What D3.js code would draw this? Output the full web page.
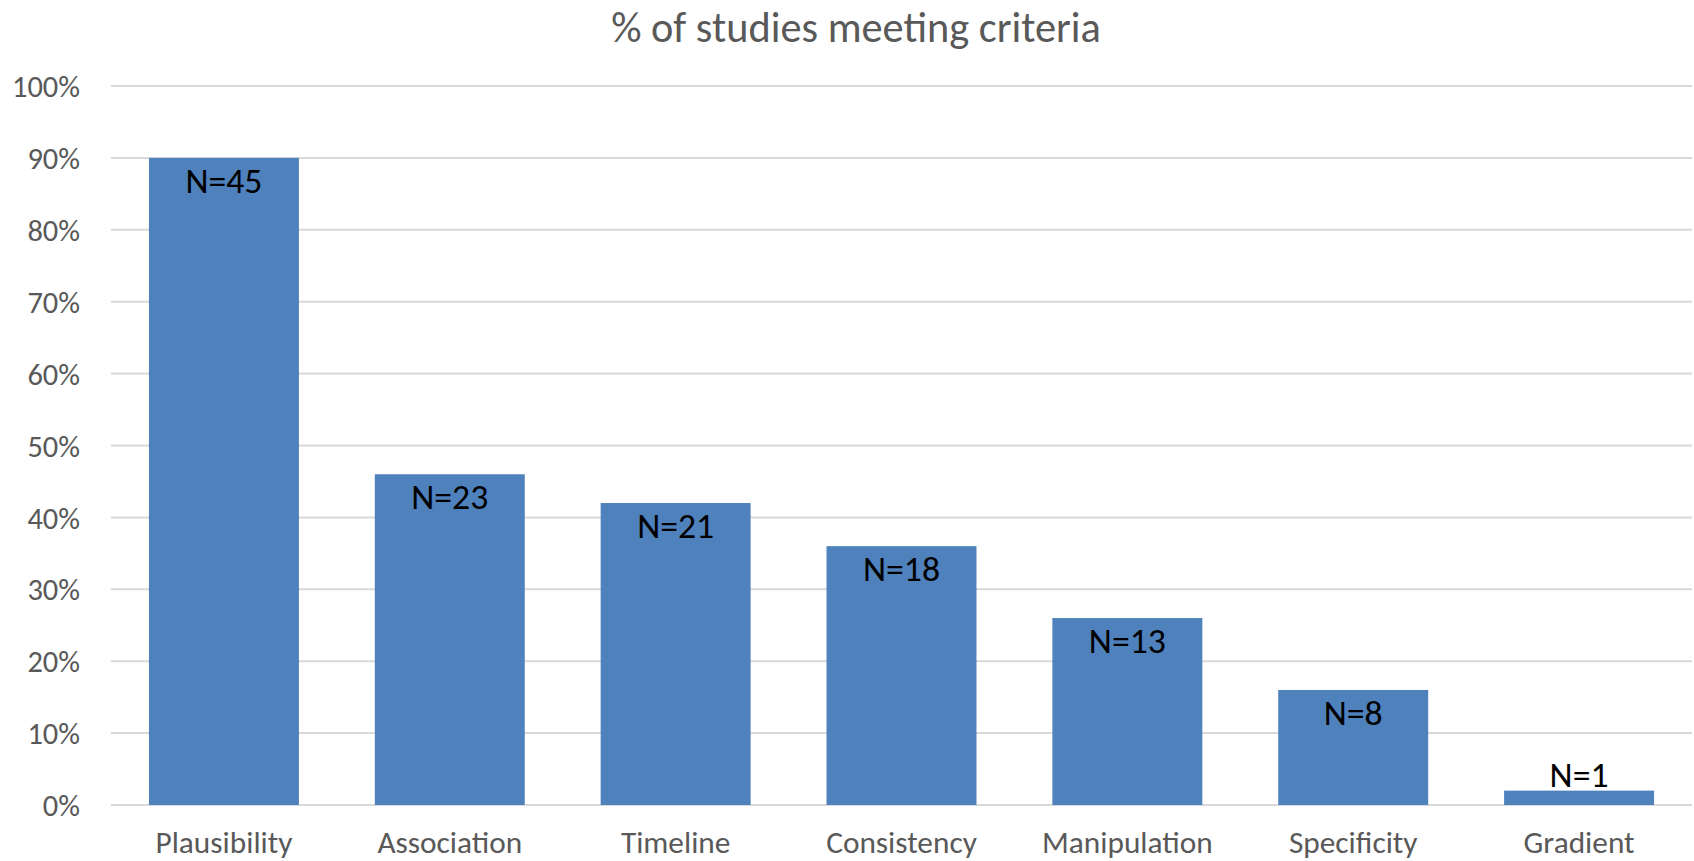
<!DOCTYPE html>
<html>
<head>
<meta charset="utf-8">
<script src="https://cdn.jsdelivr.net/npm/d3@7"></script>
<style>
  html, body { margin: 0; padding: 0; background: #fff; }
  svg { display: block; }
</style>
</head>
<body>
<svg id="chart" width="1694" height="861"></svg>
<script>
const title = "% of studies meeting criteria";
const categories = ["Plausibility", "Association", "Timeline", "Consistency", "Manipulation", "Specificity", "Gradient"];
const values = [0.90, 0.46, 0.42, 0.36, 0.26, 0.16, 0.02];
const counts = [45, 23, 21, 18, 13, 8, 1];
const yTicks = [0, 0.1, 0.2, 0.3, 0.4, 0.5, 0.6, 0.7, 0.8, 0.9, 1.0];

const FONT = "Carlito, Calibri, Lato, sans-serif";
const svg = d3.select("#chart");
const W = 1694, H = 861;
const m = { left: 111, right: 2, top: 86, bottom: 56 };

const x = d3.scaleBand().domain(categories)
  .range([m.left, W - m.right]).paddingInner(0.336).paddingOuter(0.168);
const y = d3.scaleLinear().domain([0, 1]).range([H - m.bottom, m.top]);

// Fit font size so a reference string reaches a given width
function fitSize(text, target) {
  const t = svg.append("text").attr("font-family", FONT).attr("font-size", 100).text(text);
  const w = t.node().getComputedTextLength();
  t.remove();
  return 100 * target / w;
}
const titleSize = fitSize(title, 490);
const tickSize = fitSize("100%", 68);
const catSize = fitSize("Plausibility", 137);
const labSize = fitSize("N=45", 77);

// gridlines
svg.append("g").selectAll("line").data(yTicks).join("line")
  .attr("x1", m.left).attr("x2", W - m.right)
  .attr("y1", d => y(d)).attr("y2", d => y(d))
  .attr("stroke", "#d9d9d9").attr("stroke-width", 2);

// y axis labels
const yAxis = d3.axisLeft(y).tickValues(yTicks).tickFormat(d3.format(".0%")).tickSize(0).tickPadding(0);
const gy = svg.append("g").attr("transform", `translate(80,0)`).call(yAxis);
gy.select(".domain").remove();
gy.selectAll("text").attr("font-family", FONT).attr("font-size", tickSize)
  .attr("fill", "#595959").attr("dy", "0.35em");

// bars
svg.append("g").selectAll("rect").data(categories).join("rect")
  .attr("x", d => x(d)).attr("width", x.bandwidth())
  .attr("y", (d, i) => y(values[i]))
  .attr("height", (d, i) => y(0) - y(values[i]))
  .attr("fill", "#4f81bd");

// bar labels
svg.append("g").selectAll("text").data(categories).join("text")
  .attr("x", d => x(d) + x.bandwidth() / 2)
  .attr("y", (d, i) => {
    const top = y(values[i]);
    return (y(0) - top) < 45 ? top - 4 : top + 35;
  })
  .attr("text-anchor", "middle")
  .attr("font-family", FONT).attr("font-size", labSize).attr("fill", "#000")
  .text((d, i) => "N=" + counts[i]);

// x axis labels
const xAxis = d3.axisBottom(x).tickSize(0).tickPadding(0);
const gx = svg.append("g").attr("transform", `translate(0,${H - 8})`).call(xAxis);
gx.select(".domain").remove();
gx.selectAll("text").attr("font-family", FONT).attr("font-size", catSize)
  .attr("fill", "#595959").attr("dy", 0).attr("y", 0);

// title
svg.append("text").attr("x", 856).attr("y", 42).attr("text-anchor", "middle")
  .attr("font-family", FONT).attr("font-size", titleSize).attr("fill", "#595959")
  .text(title);
</script>
</body>
</html>
